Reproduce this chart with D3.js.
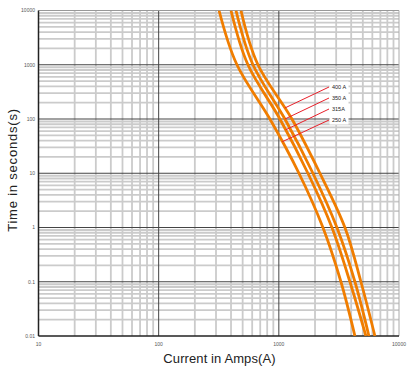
<!DOCTYPE html>
<html>
<head>
<meta charset="utf-8">
<script src="https://cdn.jsdelivr.net/npm/d3@7"></script>
<style>
  body { margin: 0; background: #fff; }
  svg { display: block; font-family: "Liberation Sans", Arial, sans-serif; }
</style>
</head>
<body>
<div id="chart"></div>
<script>
// fuse time-current data
const times = [10000, 1000, 100, 10, 1, 0.1, 0.01];
const amps250 = [318, 448, 843, 1470, 2328, 3286, 4297];
const amps315 = [400, 553, 1021, 1746, 2765, 3904, 5305];
const amps350 = [440, 609, 1124, 1922, 3043, 4297, 5618];
const amps400 = [484, 670, 1285, 2198, 3547, 4820, 6302];
const ratings = ["400 A", "350 A", "315A", "250 A"];
const leaderTimes = [160, 100, 63, 38];
const xTicks = [10, 100, 1000, 10000];
const yTicks = [0.01, 0.1, 1, 10, 100, 1000, 10000];

render();

function render() {
    const width = 407, height = 379;
    const margin = {left: 38.5, right: 8, top: 10.5, bottom: 43};

    const svg = d3.select('#chart').append('svg')
        .attr('width', width)
        .attr('height', height);

    const x = d3.scaleLog().domain([10, 10000]).range([margin.left, width - margin.right]);
    const y = d3.scaleLog().domain([0.01, 10000]).range([height - margin.bottom, margin.top]);

    const [x0, x1] = x.range();
    const [y0, y1] = y.range();

    // minor grid (2..9 inside each decade)
    const minorX = [], minorY = [];
    for (let d = 10; d < 10000; d *= 10) {
        for (let k = 2; k <= 9; k++) minorX.push(d * k);
    }
    for (let d = 0.01; d < 9999; d *= 10) {
        for (let k = 2; k <= 9; k++) minorY.push(d * k);
    }

    const grid = svg.append('g').attr('class', 'grid');
    grid.selectAll('.minor-x').data(minorX).enter().append('line')
        .attr('x1', d => x(d)).attr('x2', d => x(d))
        .attr('y1', y1).attr('y2', y0)
        .attr('stroke', '#cbcbcb').attr('stroke-width', 1.8);
    grid.selectAll('.minor-y').data(minorY).enter().append('line')
        .attr('x1', x0).attr('x2', x1)
        .attr('y1', d => y(d)).attr('y2', d => y(d))
        .attr('stroke', '#cbcbcb').attr('stroke-width', 1.8);

    // major grid
    grid.selectAll('.major-x').data(xTicks.slice(1, -1)).enter().append('line')
        .attr('x1', d => x(d)).attr('x2', d => x(d))
        .attr('y1', y1).attr('y2', y0)
        .attr('stroke', '#444').attr('stroke-width', 1);
    grid.selectAll('.major-y').data(yTicks.slice(1, -1)).enter().append('line')
        .attr('x1', x0).attr('x2', x1)
        .attr('y1', d => y(d)).attr('y2', d => y(d))
        .attr('stroke', '#444').attr('stroke-width', 1.2);

    // frame
    grid.append('line').attr('x1', x0).attr('x2', x1).attr('y1', y1).attr('y2', y1)
        .attr('stroke', '#999').attr('stroke-width', 1);
    grid.append('line').attr('x1', x1).attr('x2', x1).attr('y1', y1).attr('y2', y0)
        .attr('stroke', '#aaa').attr('stroke-width', 1);
    grid.append('line').attr('x1', x0).attr('x2', x0).attr('y1', y1).attr('y2', y0)
        .attr('stroke', '#222').attr('stroke-width', 1.5);
    grid.append('line').attr('x1', x0).attr('x2', x1).attr('y1', y0).attr('y2', y0)
        .attr('stroke', '#222').attr('stroke-width', 1.5);

    // tick labels
    svg.append('g').selectAll('text').data(yTicks).enter().append('text')
        .attr('x', x0 - 3.5)
        .attr('y', d => y(d))
        .attr('dy', '0.35em')
        .attr('text-anchor', 'end')
        .style('font-size', '5px')
        .style('fill', '#555')
        .text(d => d3.format('~g')(d));

    svg.append('g').selectAll('text').data(xTicks).enter().append('text')
        .attr('x', d => x(d))
        .attr('y', y0 + 9.5)
        .attr('text-anchor', 'middle')
        .style('font-size', '5px')
        .style('fill', '#555')
        .text(d => d3.format('~g')(d));

    // axis titles
    svg.append('text')
        .attr('transform', `translate(17, 170) rotate(-90)`)
        .attr('text-anchor', 'middle')
        .style('font-size', '13px')
        .style('letter-spacing', '0.8px')
        .style('fill', '#222')
        .text('Time in seconds(s)');

    svg.append('text')
        .attr('x', 219.5)
        .attr('y', 363)
        .attr('text-anchor', 'middle')
        .style('font-size', '13px')
        .style('letter-spacing', '0.1px')
        .style('fill', '#222')
        .text('Current in Amps(A)');

    // curves
    const series = [amps400, amps350, amps315, amps250];
    const line = d3.line()
        .x(d => x(d.a))
        .y(d => y(d.t))
        .curve(d3.curveMonotoneY);

    svg.append('clipPath').attr('id', 'plot-clip')
        .append('rect')
        .attr('x', x0).attr('y', y1)
        .attr('width', x1 - x0).attr('height', y0 - y1);

    svg.append('g').attr('clip-path', 'url(#plot-clip)')
        .selectAll('path').data(series).enter().append('path')
        .attr('d', s => line(s.map((a, i) => ({a: a, t: times[i]}))))
        .attr('fill', 'none')
        .attr('stroke', '#f07d00')
        .attr('stroke-width', 2.8);

    // labels + leaders
    const labelX = 332, labelY0 = 88.5, labelStep = 11;
    svg.append('rect')
        .attr('x', 329.5).attr('y', 81.5)
        .attr('width', 19).attr('height', 43)
        .attr('fill', '#fff');

    function ampsAt(s, t) {
        // log-log interpolation along a curve
        const lt = Math.log10(t);
        for (let i = 0; i < times.length - 1; i++) {
            const ta = Math.log10(times[i]), tb = Math.log10(times[i + 1]);
            if (lt <= ta && lt >= tb) {
                const f = (ta - lt) / (ta - tb);
                return Math.pow(10, Math.log10(s[i]) + f * (Math.log10(s[i + 1]) - Math.log10(s[i])));
            }
        }
        return s[0];
    }

    const labels = svg.append('g').selectAll('g').data(ratings).enter().append('g');
    labels.append('line')
        .attr('x1', (d, i) => x(ampsAt(series[i], leaderTimes[i])))
        .attr('y1', (d, i) => y(leaderTimes[i]))
        .attr('x2', labelX - 3)
        .attr('y2', (d, i) => labelY0 + i * labelStep - 1.5)
        .attr('stroke', '#e8202a')
        .attr('stroke-width', 1);
    labels.append('text')
        .attr('x', labelX)
        .attr('y', (d, i) => labelY0 + i * labelStep)
        .style('font-size', '5.5px')
        .style('fill', '#222')
        .text(d => d);
}
</script>
</body>
</html>
